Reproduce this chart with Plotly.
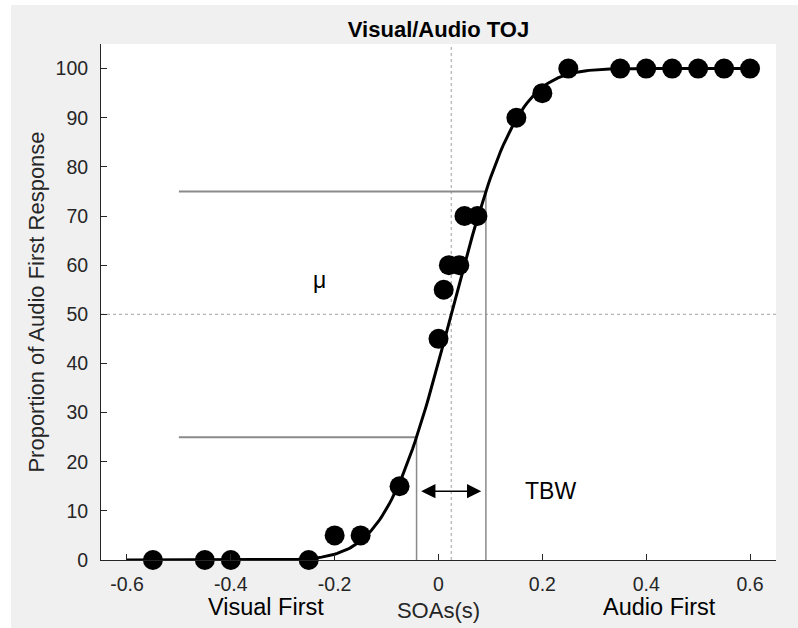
import math
import plotly.graph_objects as go

# ---- data ----
soa = [-0.55, -0.45, -0.40, -0.25, -0.20, -0.15, -0.075, 0.0, 0.01, 0.02, 0.04,
       0.05, 0.075, 0.15, 0.20, 0.25, 0.35, 0.40, 0.45, 0.50, 0.55, 0.60]
prop_audio_first = [0, 0, 0, 0, 5, 5, 15, 45, 55, 60, 60,
                    70, 70, 90, 95, 100, 100, 100, 100, 100, 100, 100]

# fitted psychometric function (cumulative Gaussian) parameters
mu = 0.0245
sigma = 0.099
fit_x_min, fit_x_max = -0.6, 0.6
n_fit = 241

x_ticks = [-0.6, -0.4, -0.2, 0, 0.2, 0.4, 0.6]
x_tick_labels = ["-0.6", "-0.4", "-0.2", "0", "0.2", "0.4", "0.6"]
y_ticks = list(range(0, 101, 10))

ref_line_start = -0.5
arrow_y = 14
label_mu_pos = (-0.245, 57)
label_tbw_pos = (0.163, 14)
label_visual_x = -0.333
label_audio_x = 0.426

# ---- fitted curve ----
fit_x = [fit_x_min + (fit_x_max - fit_x_min) * i / (n_fit - 1) for i in range(n_fit)]
fit_y = [100 * 0.5 * (1 + math.erf((x - mu) / (sigma * math.sqrt(2)))) for x in fit_x]
z75 = 0.6744898
x25 = mu - z75 * sigma
x75 = mu + z75 * sigma

FONT = "Liberation Sans, Arial, Helvetica, sans-serif"
AX = "#262626"
GRAY = "#8a8a8a"
DOT = "#a0a0a0"

fig = go.Figure()
fig.add_trace(go.Scatter(x=fit_x, y=fit_y, mode="lines",
                         line=dict(color="black", width=3), cliponaxis=False,
                         showlegend=False, hoverinfo="skip"))
fig.add_trace(go.Scatter(x=soa, y=prop_audio_first, mode="markers",
                         marker=dict(color="black", size=20, line=dict(width=0)),
                         cliponaxis=False, showlegend=False))

shapes = [
    # figure grey background with thin white border
    dict(type="rect", xref="paper", yref="paper", x0=-0.1333, x1=1.2, y0=-0.3, y1=1.0756,
         fillcolor="#f0f0f0", line=dict(width=0), layer="below"),
    dict(type="rect", xref="paper", yref="paper", x0=0, x1=1, y0=0, y1=1,
         fillcolor="white", line=dict(width=0), layer="below"),
    # dotted reference lines
    dict(type="line", xref="x", yref="paper", x0=mu, x1=mu, y0=0, y1=1,
         line=dict(color=DOT, width=1, dash="dot"), layer="below"),
    dict(type="line", xref="paper", yref="y", x0=0, x1=1, y0=50, y1=50,
         line=dict(color=DOT, width=1, dash="dot"), layer="below"),
    # 25% / 75% lines
    dict(type="line", xref="x", yref="y", x0=ref_line_start, x1=x75, y0=75, y1=75,
         line=dict(color=GRAY, width=2), layer="below"),
    dict(type="line", xref="x", yref="y", x0=ref_line_start, x1=x25, y0=25, y1=25,
         line=dict(color=GRAY, width=2), layer="below"),
    dict(type="line", xref="x", yref="y", x0=x75, x1=x75, y0=0, y1=75,
         line=dict(color=GRAY, width=1.5), layer="below"),
    dict(type="line", xref="x", yref="y", x0=x25, x1=x25, y0=0, y1=25,
         line=dict(color=GRAY, width=1.5), layer="below"),
]

annotations = [
    # TBW double arrow
    dict(x=x75 - 0.009, y=arrow_y, ax=x25 + 0.006, ay=arrow_y, xref="x", yref="y",
         axref="x", ayref="y", text="", showarrow=True, arrowside="end+start",
         arrowhead=2, startarrowhead=2, arrowsize=1.9, startarrowsize=1.9,
         arrowwidth=1.5, arrowcolor="black"),
    dict(x=label_tbw_pos[0], y=label_tbw_pos[1], xref="x", yref="y", text="TBW",
         showarrow=False, xanchor="left", yanchor="middle",
         font=dict(family=FONT, size=23, color="black")),
    dict(x=label_mu_pos[0], y=label_mu_pos[1], xref="x", yref="y", text="μ",
         showarrow=False, xanchor="left", yanchor="middle",
         font=dict(family=FONT, size=23, color="black")),
    dict(x=label_visual_x, y=-0.092, xref="x", yref="paper", text="Visual First",
         showarrow=False, xanchor="center", yanchor="middle",
         font=dict(family=FONT, size=23.5, color="black")),
    dict(x=label_audio_x, y=-0.092, xref="x", yref="paper", text="Audio First",
         showarrow=False, xanchor="center", yanchor="middle",
         font=dict(family=FONT, size=23.5, color="black")),
]

fig.update_layout(
    width=798, height=628,
    margin=dict(l=101, r=22, t=44, b=68, autoexpand=False),
    paper_bgcolor="white", plot_bgcolor="white",
    font=dict(family=FONT, color=AX),
    title=dict(text="<b>Visual/Audio TOJ</b>", x=0.5, xref="paper",
               y=1 - 29 / 628, yref="container", yanchor="middle", xanchor="center",
               font=dict(family=FONT, size=22, color="black")),
    shapes=shapes, annotations=annotations,
    xaxis=dict(range=[-0.65, 0.65], tickvals=x_ticks, ticktext=x_tick_labels,
               showgrid=False, zeroline=False, showline=True, linecolor=AX, linewidth=1,
               ticks="inside", ticklen=6, tickwidth=1, tickcolor=AX,
               tickfont=dict(family=FONT, size=19.5, color=AX),
               ticklabelstandoff=7,
               title=dict(text="SOAs(s)", standoff=8,
                          font=dict(family=FONT, size=22, color=AX)),
               automargin=False),
    yaxis=dict(range=[0, 105], tickvals=y_ticks,
               showgrid=False, zeroline=False, showline=True, linecolor=AX, linewidth=1,
               ticks="inside", ticklen=6, tickwidth=1, tickcolor=AX,
               tickfont=dict(family=FONT, size=19.5, color=AX),
               ticklabelstandoff=8,
               title=dict(text="Proportion of Audio First Response", standoff=4,
                          font=dict(family=FONT, size=22, color=AX)),
               automargin=False),
)

fig.write_html("out.html")
